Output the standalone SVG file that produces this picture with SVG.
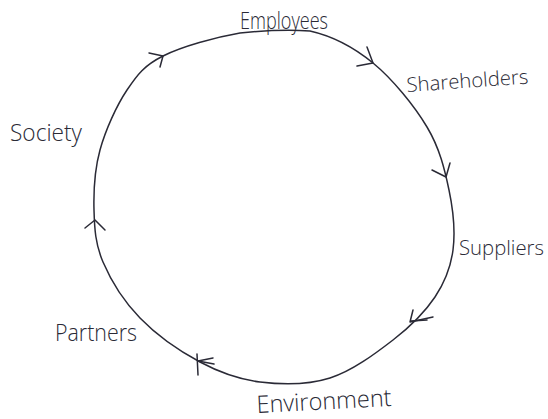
<svg xmlns="http://www.w3.org/2000/svg" width="548" height="419" viewBox="0 0 548 419">
<style>
.line{fill:none;stroke:#2a2a36;stroke-width:1.5;stroke-linecap:round;stroke-linejoin:round}
.lbl{font-family:"Open Sans","Liberation Sans",sans-serif;font-weight:300;font-size:24px;fill:#2a2a36}
.sm{font-size:20px}
</style>
<rect width="548" height="419" fill="#ffffff"/>
<g id="connectors">
<path class="line" d="M240,33 C264.5,30.5 288,29.5 310,31 C332.2,36 353.5,47 373,63 C392.5,79 414.3,105.8 427,127 C439.7,148.2 444.7,169.5 449,190 C453.3,210.5 455.3,232.2 453,250 C450.7,267.8 445,282 435,297 C425,312 410.5,326.5 393,340 C375.5,353.5 352.2,371 330,378 C307.8,385 281.7,384.7 260,382 C238.3,379.3 220,372.7 200,362 C180,351.3 156.2,334.7 140,318 C123.8,301.3 110.7,280 103,262 C95.3,244 94.5,228.7 94,210 C93.5,191.3 94.5,170 100,150 C105.5,130 116.5,105.7 127,90 C137.5,74.3 144.2,65.5 163,56 C181.8,46.5 215.5,37.2 240,33 Z"/>
<polyline class="line" points="149,53 163,56 160,67"/>
<polyline class="line" points="367,47 373,63 357,66"/>
<polyline class="line" points="432,170 446,177 450,163"/>
<polyline class="line" points="413,310 410,322 433,317"/>
<line class="line" x1="411" y1="321" x2="427" y2="320"/>
<polyline class="line" points="213,358 198,361 214,364"/>
<line class="line" x1="197" y1="354" x2="198" y2="375"/>
<polyline class="line" points="85,228 95,220 105,230"/>
</g>
<g id="node-employees"><text class="lbl" x="240" y="29" textLength="88" lengthAdjust="spacingAndGlyphs">Employees</text></g>
<g id="node-shareholders"><text class="lbl sm" x="407" y="92" textLength="122" lengthAdjust="spacingAndGlyphs" transform="rotate(-4 407 92)">Shareholders</text></g>
<g id="node-suppliers"><text class="lbl sm" x="459" y="255" textLength="85" lengthAdjust="spacingAndGlyphs">Suppliers</text></g>
<g id="node-environment"><text class="lbl" x="257" y="413" textLength="135" lengthAdjust="spacingAndGlyphs" transform="rotate(-3 257 413)">Environment</text></g>
<g id="node-partners"><text class="lbl" x="55" y="341" textLength="82" lengthAdjust="spacingAndGlyphs">Partners</text></g>
<g id="node-society"><text class="lbl" x="10" y="141" textLength="72" lengthAdjust="spacingAndGlyphs">Society</text></g>
</svg>
